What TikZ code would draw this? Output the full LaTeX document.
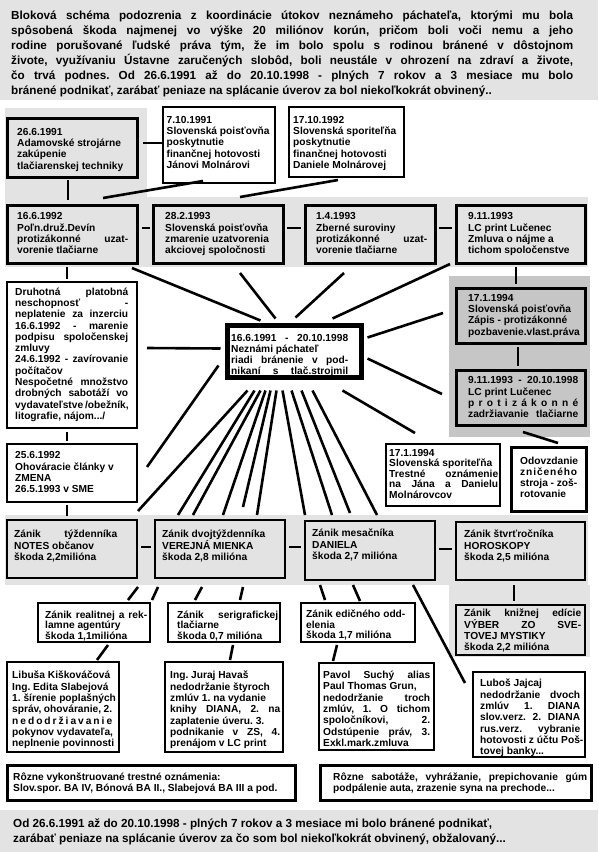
\documentclass[tikz,border=0pt]{standalone}
\usepackage{fontspec}
\newfontfamily\lib{Liberation Sans}
\usetikzlibrary{calc}
\definecolor{band}{RGB}{227,227,227}
\definecolor{darkband}{RGB}{198,198,198}
\newlength\jw
\newcommand\jl[1]{\makebox[\jw][s]{#1}}
\tikzset{
 bxframe/.style={draw, anchor=north west, inner sep=0pt, outer sep=0pt},
 thickbox/.style={bxframe, line width=3pt},
 midbox/.style={bxframe, line width=2.2pt},
 thinbox/.style={bxframe, line width=1.6pt},
 centerbox/.style={bxframe, line width=5pt},
 txt/.style={anchor=north west, inner sep=0pt, align=left, font=\lib\bfseries\fontsize{10.2}{11.3}\selectfont},
 tighttxt/.style={txt, font=\lib\bfseries\fontsize{10.2}{10.5}\selectfont},
 bigtxt/.style={anchor=north west, inner sep=0pt, align=left, font=\lib\bfseries\fontsize{11.7}{15}\selectfont},
 jw/.code={\setlength\jw{#1pt}},
 conn/.style={line width=2.6pt},
}
\begin{document}
\frenchspacing
\begin{tikzpicture}[x=1pt,y=-1pt]
\useasboundingbox (0,0) rectangle (598,852);
% bands
\fill[band] (0,0) rectangle (598,100);
\fill[band] (5,108) rectangle (147,197);
\fill[band] (5,197) rectangle (588,267);
\fill[darkband] (449,276) rectangle (590,437);
\fill[band] (5,515) rectangle (588,585);
\fill[band] (449,585) rectangle (590,657);
\fill[band] (0,810) rectangle (598,852);

% header / footer
\node[bigtxt, jw=562] (hdr) at (11,10.5) {%
\jl{Bloková schéma podozrenia z koordinácie útokov neznámeho páchateľa, ktorými mu bola}\\
\jl{spôsobená škoda najmenej vo výške 20 miliónov korún, pričom boli voči nemu a jeho}\\
\jl{rodine porušované ľudské práva tým, že im bolo spolu s rodinou bránené v dôstojnom}\\
\jl{živote, využívaniu Ústavne zaručených slobôd, boli neustále v ohrození na zdraví a živote,}\\
\jl{čo trvá podnes. Od 26.6.1991 až do 20.10.1998 - plných 7 rokov a 3 mesiace mu bolo}\\
bránené podnikať, zarábať peniaze na splácanie úverov za bol niekoľkokrát obvinený..};
\node[bigtxt] (ftr) at (13,818.6) {%
Od 26.6.1991 až do 20.10.1998 - plných 7 rokov a 3 mesiace mi bolo bránené podnikať,\\
zarábať peniaze na splácanie úverov za čo som bol niekoľkokrát obvinený, obžalovaný...};

% frames
\node[thickbox, minimum width=130pt, minimum height=59pt] (b1) at (7,118) {};
\node[thinbox, minimum width=112pt, minimum height=76pt] (b2) at (163,107) {};
\node[thinbox, minimum width=115pt, minimum height=70pt] (b7) at (289,107) {};
\node[thickbox, minimum width=130pt, minimum height=58pt] (b3) at (7,205) {};
\node[thickbox, minimum width=130pt, minimum height=58pt] (b4) at (153,205) {};
\node[thickbox, minimum width=130pt, minimum height=58pt] (b5) at (305,205) {};
\node[thickbox, minimum width=129pt, minimum height=58pt] (b6) at (456,205) {};
\node[thinbox, minimum width=130pt, minimum height=146pt] (b8) at (7,282) {};
\node[centerbox, minimum width=133.5pt, minimum height=52pt] (b9) at (227.5,325.5) {};
\node[thickbox, minimum width=129pt, minimum height=55pt] (b10) at (456,288) {};
\node[thickbox, minimum width=129pt, minimum height=55pt] (b11) at (456,370) {};
\node[thinbox, minimum width=114pt, minimum height=62pt] (b12) at (386,444) {};
\node[thickbox, minimum width=75pt, minimum height=64pt] (b13) at (511,447) {};
\node[thinbox, minimum width=130pt, minimum height=58pt] (b14) at (7,444) {};
\node[midbox, minimum width=130pt, minimum height=58pt] (b15) at (7,520) {};
\node[midbox, minimum width=130pt, minimum height=58pt] (b16) at (155,520) {};
\node[midbox, minimum width=130pt, minimum height=59pt] (b17) at (305,521) {};
\node[midbox, minimum width=129pt, minimum height=58pt] (b18) at (456,522) {};
\node[midbox, minimum width=129pt, minimum height=50pt] (b19) at (456,605) {};
\node[thinbox, minimum width=112pt, minimum height=39pt] (b20) at (38,603) {};
\node[thinbox, minimum width=112pt, minimum height=39pt] (b21) at (168,603) {};
\node[thinbox, minimum width=114pt, minimum height=39pt] (b22) at (301,603) {};
\node[thinbox, minimum width=112pt, minimum height=90pt] (b23) at (7,662) {};
\node[thinbox, minimum width=118pt, minimum height=90pt] (b24) at (165,662) {};
\node[thinbox, minimum width=115pt, minimum height=87pt] (b25) at (319,663) {};
\node[thinbox, minimum width=112pt, minimum height=85pt] (b26) at (473,672) {};
\node[thickbox, minimum width=288pt, minimum height=35pt] (b27) at (7,765) {};
\node[thickbox, minimum width=271pt, minimum height=35pt] (b28) at (320,765) {};

% texts
\node[txt] (b1t) at ($(b1.north west)+(10,10)$) {26.6.1991\\Adamovské strojárne\\zakúpenie\\tlačiarenskej techniky};
\node[txt] (b2t) at ($(b2.north west)+(3.5,9)$) {7.10.1991\\Slovenská poisťovňa\\poskytnutie\\finančnej hotovosti\\Jánovi Molnárovi};
\node[txt] (b7t) at ($(b7.north west)+(4,9)$) {17.10.1992\\Slovenská sporiteľňa\\poskytnutie\\finančnej hotovosti\\Daniele Molnárovej};
\node[txt, jw=111] (b3t) at ($(b3.north west)+(10,7.5)$) {16.6.1992\\Poľn.druž.Devín\\\jl{protizákonné uzat-}\\vorenie tlačiarne};
\node[txt] (b4t) at ($(b4.north west)+(12,7.5)$) {28.2.1993\\Slovenská poisťovňa\\zmarenie uzatvorenia\\akciovej spoločnosti};
\node[txt, jw=111] (b5t) at ($(b5.north west)+(11,7.5)$) {1.4.1993\\Zberné suroviny\\\jl{protizákonné uzat-}\\vorenie tlačiarne};
\node[txt] (b6t) at ($(b6.north west)+(12,7.5)$) {9.11.1993\\LC print Lučenec\\Zmluva o nájme a\\tichom spoločenstve};
\node[txt, jw=113] (b8t) at ($(b8.north west)+(8,5.5)$) {\jl{Druhotná platobná}\\\jl{neschopnosť -}\\\jl{neplatenie za inzerciu}\\\jl{16.6.1992 - marenie}\\\jl{podpisu spoločenskej}\\zmluvy\\\jl{24.6.1992 - zavírovanie}\\počítačov\\\jl{Nespočetné množstvo}\\\jl{drobných sabotáží vo}\\\jl{vydavateľstve /obežník,}\\litografie, nájom.../};
\node[txt, jw=117, font=\lib\bfseries\fontsize{10.2}{11}\selectfont] (b9t) at ($(b9.north west)+(3.5,8.5)$) {\jl{16.6.1991 - 20.10.1998}\\Neznámi páchateľ\\\jl{riadi bránenie v pod-}\\\jl{nikaní s tlač.strojmil}};
\node[txt] (b10t) at ($(b10.north west)+(12,6)$) {17.1.1994\\Slovenská poisťovňa\\Zápis - protizákonné\\pozbavenie.vlast.práva};
\node[txt, jw=110] (b11t) at ($(b11.north west)+(12,6.5)$) {\jl{9.11.1993 - 20.10.1998}\\LC print Lučenec\\\makebox[\jw][s]{p\hfill r\hfill o\hfill t\hfill i\hfill z\hfill á\hfill k\hfill o\hfill n\hfill n\hfill é}\\\jl{zadržiavanie tlačiarne}};
\node[tighttxt, jw=109] (b12t) at ($(b12.north west)+(3,5)$) {17.1.1994\\Slovenská sporiteľňa\\\jl{Trestné oznámenie}\\\jl{na Jána a Danielu}\\Molnárovcov};
\node[txt, jw=57] (b13t) at ($(b13.north west)+(9,9.5)$) {Odovzdanie\\\makebox[\jw][s]{z\hfill n\hfill i\hfill č\hfill e\hfill n\hfill é\hfill h\hfill o}\\\jl{stroja - zoš-}\\rotovanie};
\node[txt] (b14t) at ($(b14.north west)+(8,7.5)$) {25.6.1992\\Ohováracie články v\\ZMENA\\26.5.1993 v SME};
\node[txt, jw=103] (b15t) at ($(b15.north west)+(7,10)$) {\jl{Zánik týždenníka}\\NOTES občanov\\škoda 2,2milióna};
\node[txt] (b16t) at ($(b16.north west)+(7,10)$) {Zánik dvojtýždenníka\\VEREJNÁ MIENKA\\škoda 2,8 milióna};
\node[txt] (b17t) at ($(b17.north west)+(7,8)$) {Zánik mesačníka\\DANIELA\\škoda 2,7 milióna};
\node[txt] (b18t) at ($(b18.north west)+(8,8)$) {Zánik štvrťročníka\\HOROSKOPY\\škoda 2,5 milióna};
\node[txt, jw=117] (b19t) at ($(b19.north west)+(8,4)$) {\jl{Zánik knižnej edície}\\\jl{VÝBER ZO SVE-}\\TOVEJ MYSTIKY\\škoda 2,2 milióna};
\node[tighttxt, jw=102] (b20t) at ($(b20.north west)+(7,7.5)$) {\jl{Zánik realitnej a rek-}\\lamne agentúry\\škoda 1,1milióna};
\node[tighttxt, jw=101] (b21t) at ($(b21.north west)+(9,7.5)$) {\jl{Zánik serigrafickej}\\tlačiarne\\škoda 0,7 milióna};
\node[tighttxt] (b22t) at ($(b22.north west)+(5,7)$) {Zánik edičného odd-\\elenia\\škoda 1,7 milióna};
\node[txt, jw=100] (b23t) at ($(b23.north west)+(5,9)$) {Libuša Kiškováčová\\Ing. Edita Slabejová\\1. šírenie poplašných\\\jl{správ, ohováranie, 2.}\\\makebox[\jw][s]{n\hfill e\hfill d\hfill o\hfill d\hfill r\hfill ž\hfill i\hfill a\hfill v\hfill a\hfill n\hfill i\hfill e}\\pokynov vydavateľa,\\neplnenie povinnosti};
\node[txt, jw=110] (b24t) at ($(b24.north west)+(5,9)$) {Ing. Juraj Havaš\\nedodržanie štyroch\\zmlúv 1. na vydanie\\\jl{knihy DIANA, 2. na}\\zaplatenie úveru. 3.\\\jl{podnikanie v ZS, 4.}\\prenájom v LC print};
\node[txt, jw=107] (b25t) at ($(b25.north west)+(4,8)$) {\jl{Pavol Suchý alias}\\Paul Thomas Grun,\\\jl{nedodržanie troch}\\\jl{zmlúv, 1. O tichom}\\\jl{spoločníkovi, 2.}\\\jl{Odstúpenie práv, 3.}\\Exkl.mark.zmluva};
\node[txt, jw=100] (b26t) at ($(b26.north west)+(7,7)$) {Luboš Jajcaj\\\jl{nedodržanie dvoch}\\\jl{zmlúv 1. DIANA}\\\jl{slov.verz. 2. DIANA}\\\jl{rus.verz. vybranie}\\hotovosti z účtu Poš-\\tovej banky...};
\node[txt] (b27t) at ($(b27.north west)+(6,7.5)$) {Rôzne vykonštruované trestné oznámenia:\\Slov.spor. BA IV, Bónová BA II., Slabejová BA III a pod.};
\node[txt, jw=254] (b28t) at ($(b28.north west)+(13,7.5)$) {\jl{Rôzne sabotáže, vyhrážanie, prepichovanie gúm}\\podpálenie auta, zrazenie syna na prechode...};

% connectors
\draw[conn] ($(b1.north west)+(136,25)$) -- ($(b2.north west)+(-1,36)$);
\draw[conn] ($(b1.north west)+(61,62)$) -- ($(b3.north west)+(61,-5)$);
\draw[conn] ($(b2.north west)+(40,74)$) -- ($(b3.north west)+(96,-7)$);
\draw[conn] ($(b7.north west)+(49,73)$) -- ($(b4.north west)+(87,-8)$);
\draw[conn] ($(b3.north west)+(135,23)$) -- ($(b4.north west)+(-3,23)$);
\draw[conn] ($(b4.north west)+(134,23)$) -- ($(b5.north west)+(-4,23)$);
\draw[conn] ($(b5.north west)+(134,23)$) -- ($(b6.north west)+(-4,23)$);
\draw[conn] ($(b6.north west)+(60,62)$) -- ($(b10.north west)+(60,-4)$);
\draw[conn] ($(b10.north west)+(62,59)$) -- ($(b11.north west)+(62,-4)$);
\draw[conn] ($(b3.north west)+(60,62)$) -- ($(b8.north west)+(60,-3)$);
\draw[conn] ($(b3.north west)+(125,63)$) -- ($(b9.north west)+(33,-5)$);
\draw[conn] ($(b4.north west)+(87,68)$) -- ($(b9.north west)+(48,-7)$);
\draw[conn] ($(b5.north west)+(39,68)$) -- ($(b9.north west)+(68,-8)$);
\draw[conn] ($(b6.north west)+(-6,59)$) -- ($(b9.north west)+(105,-7)$);
\draw[conn] ($(b9.north west)+(140,12)$) -- ($(b10.north west)+(-13,25)$);
\draw[conn] ($(b9.north west)+(140,33)$) -- ($(b11.north west)+(-14,24)$);
\draw[conn] ($(b9.north west)+(115,65)$) -- ($(b12.north west)+(29,-11)$);
\draw[conn] ($(b11.north west)+(67,62)$) -- ($(b13.north west)+(47,-4)$);
\draw[conn] ($(b9.north west)+(-7,23)$) -- ($(b8.north west)+(140,66)$);
\draw[conn] ($(b9.north west)+(-9,40)$) -- ($(b14.north west)+(140,23)$);
\draw[conn] ($(b8.north west)+(60,150)$) -- ($(b14.north west)+(60,-3)$);
% fan
\draw[conn] ($(b9.north west)+(20,65)$) -- ($(b15.north west)+(131,-9)$);
\draw[conn] ($(b9.north west)+(27,65)$) -- ($(b16.north west)+(23,-5)$);
\draw[conn] ($(b9.north west)+(33,65)$) -- ($(b16.north west)+(38,-5)$);
\draw[conn] ($(b9.north west)+(38,65)$) -- ($(b16.north west)+(68,-5)$);
\draw[conn] ($(b9.north west)+(43,65)$) -- ($(b16.north west)+(88,-13)$);
\draw[conn] ($(b9.north west)+(49,65)$) -- ($(b16.north west)+(102,-5)$);
\draw[conn] ($(b9.north west)+(55,65)$) -- ($(b17.north west)+(0,-6)$);
\draw[conn] ($(b9.north west)+(64,65)$) -- ($(b17.north west)+(27,-6)$);
\draw[conn] ($(b9.north west)+(74,65)$) -- ($(b17.north west)+(45,-8)$);
\draw[conn] ($(b9.north west)+(85,65)$) -- ($(b17.north west)+(72,-6)$);
% row 4 and below
\draw[conn] ($(b14.north west)+(60,61)$) -- ($(b15.north west)+(60,-4)$);
\draw[conn] ($(b15.north west)+(134,27)$) -- ($(b16.north west)+(-4,27)$);
\draw[conn] ($(b16.north west)+(134,27)$) -- ($(b17.north west)+(-4,26)$);
\draw[conn] ($(b17.north west)+(134,28)$) -- ($(b18.north west)+(-4,27)$);
\draw[conn] ($(b18.north west)+(58,63)$) -- ($(b19.north west)+(58,-4)$);
\draw[conn] ($(b15.north west)+(131,67)$) -- ($(b20.north west)+(90,-3)$);
\draw[conn] ($(b16.north west)+(3,67)$) -- ($(b20.north west)+(114,-3)$);
\draw[conn] ($(b16.north west)+(47,67)$) -- ($(b21.north west)+(27,-3)$);
\draw[conn] ($(b16.north west)+(88,67)$) -- ($(b21.north west)+(72,-3)$);
\draw[conn] ($(b17.north west)+(15,64)$) -- ($(b22.north west)+(24,-3)$);
\draw[conn] ($(b17.north west)+(48,64)$) -- ($(b22.north west)+(59,-2)$);
\draw[conn] ($(b17.north west)+(108,64)$) -- ($(b26.north west)+(-8,11)$);
\draw[conn] ($(b20.north west)+(70,42)$) -- ($(b23.north west)+(90,-2)$);
\draw[conn] ($(b21.north west)+(65,42)$) -- ($(b24.north west)+(65,-2)$);
\draw[conn] ($(b22.north west)+(36,42)$) -- ($(b25.north west)+(14,-2)$);
\end{tikzpicture}
\end{document}
